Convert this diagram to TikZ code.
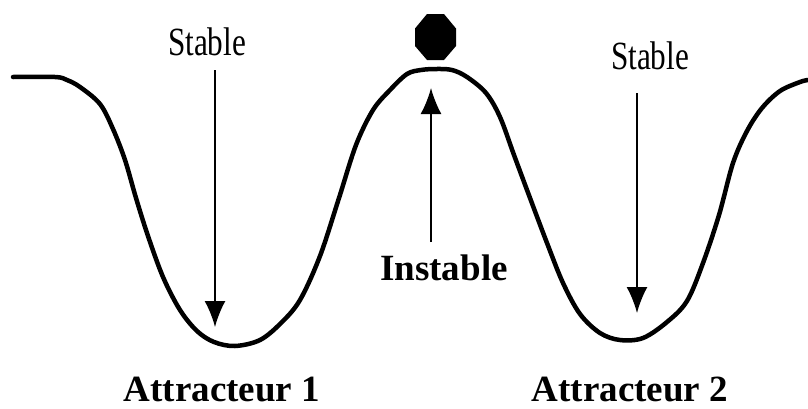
\documentclass[tikz,border=0pt]{standalone}
\usepackage{fontspec}
\setmainfont{Liberation Serif}
\usetikzlibrary{arrows.meta}
\tikzset{
  curveline/.style={line width=4.5pt, line join=round, line cap=round},
  pointer/.style={line width=1.8pt, -{Latex[length=26pt,width=21pt]}},
  stabletext/.style={font=\fontsize{40}{40}\selectfont, xscale=0.78, anchor=base, inner sep=0pt},
  boldtext/.style={font=\fontsize{37}{37}\selectfont\bfseries, anchor=base, inner sep=0pt}
}
\begin{document}
\begin{tikzpicture}[x=1pt,y=-1pt]
\useasboundingbox (0,0) rectangle (808,408);
% potential landscape
\draw[curveline] plot[smooth, tension=0.55] coordinates {
 (13,77) (55,77) (67,80) (80,87) (100,104) (113,129) (125,160) (136,198) (148,236)
 (163,277) (180,310) (197,331) (214,342) (235,346) (260,340) (281,323) (300,300)
 (320,256) (339,198) (356,145) (373,110) (390,90) (407,74) (421,70) (436,69)
 (452,70) (467,77) (486,93) (500,117) (514,155) (530,198) (547,243) (563,283)
 (580,314) (600,333) (620,340) (643,338) (667,322) (687,301) (703,263) (719,215)
 (733,163) (747,131) (762,108) (780,91) (800,82) (808,80)};
% ball
\fill (427,14) -- (444,14) -- (456,28.5) -- (456,46) -- (444,60) -- (427,60) -- (415,46) -- (415,28.5) -- cycle;
% labels
\node[stabletext] (s1) at (207,55) {Stable};
\node[stabletext] (s2) at (650,69) {Stable};
\node[boldtext] (ins) at (444,280) {Instable};
\node[boldtext] (a1) at (222,401) {Attracteur 1};
\node[boldtext] (a2) at (630,401) {Attracteur 2};
% arrow end points
\coordinate (s1top) at (215,70);
\coordinate (s1tip) at (215,327);
\coordinate (s2top) at (637,93);
\coordinate (s2tip) at (637,313);
\coordinate (instop) at (431,242);
\coordinate (instip) at (431,88);
\draw[pointer] (s1top) -- (s1tip);
\draw[pointer] (s2top) -- (s2tip);
\draw[pointer] (instop) -- (instip);
\end{tikzpicture}
\end{document}
